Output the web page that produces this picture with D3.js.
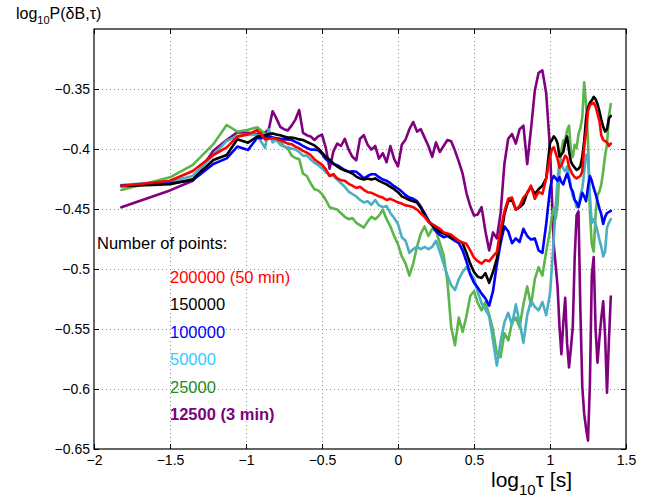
<!DOCTYPE html>
<html>
<head>
<meta charset="utf-8">
<script src="https://cdn.jsdelivr.net/npm/d3@7"></script>
<style>
  body { margin: 0; background: #fff; }
  svg { display: block; }
  text { font-family: "Liberation Sans", Arial, Helvetica, sans-serif; }
</style>
</head>
<body>
<svg id="chart" width="656" height="499"></svg>
<script>
// log10(tau) sampling shared by all curves
const logTau = [
  -1.82, -1.5, -1.35, -1.215, -1.127, -1.057, -0.987, -0.926,
  -0.9, -0.875, -0.85, -0.825, -0.8, -0.775, -0.75, -0.725, -0.7, -0.675,
  -0.65, -0.625, -0.6, -0.575, -0.55, -0.525, -0.5, -0.475, -0.45, -0.425,
  -0.4, -0.375, -0.35, -0.325, -0.3, -0.275, -0.25, -0.225, -0.2, -0.175,
  -0.15, -0.125, -0.1, -0.075, -0.05, -0.025, 0, 0.025, 0.05, 0.075,
  0.1, 0.125, 0.15, 0.175, 0.2, 0.225, 0.25, 0.275, 0.3, 0.325,
  0.35, 0.375, 0.4, 0.425, 0.45, 0.475, 0.5, 0.525, 0.55, 0.575,
  0.6, 0.625, 0.65, 0.675, 0.7, 0.725, 0.75, 0.775, 0.8, 0.825,
  0.85, 0.875, 0.9, 0.925, 0.95, 0.975,
  1.0, 1.0125, 1.025, 1.0375, 1.05, 1.0625, 1.075, 1.0875, 1.1, 1.1125,
  1.125, 1.1375, 1.15, 1.1625, 1.175, 1.1875, 1.2, 1.2125, 1.225, 1.2375,
  1.25, 1.2625, 1.275, 1.2875, 1.3, 1.3125, 1.325, 1.3375, 1.35, 1.3625,
  1.375, 1.3875, 1.4
];

const logP200000 = [
  -0.4308, -0.4264, -0.4183, -0.405, -0.3986, -0.3897, -0.3878, -0.3842,
  -0.388, -0.392, -0.3915, -0.391, -0.3915, -0.393, -0.394, -0.3955, -0.396, -0.398,
  -0.3995, -0.4015, -0.403, -0.405, -0.4085, -0.411, -0.413, -0.417, -0.4225, -0.421,
  -0.4245, -0.426, -0.4265, -0.429, -0.4305, -0.4325, -0.4315, -0.434, -0.436, -0.4365,
  -0.438, -0.4395, -0.4405, -0.4425, -0.4415, -0.443, -0.4445, -0.4455, -0.447, -0.4475,
  -0.4485, -0.4505, -0.4535, -0.4565, -0.4605, -0.4625, -0.4645, -0.4665, -0.4695, -0.4705,
  -0.4715, -0.474, -0.4765, -0.478, -0.479, -0.4845, -0.4905, -0.4935, -0.4955, -0.4925,
  -0.4935, -0.4895, -0.486, -0.467, -0.452, -0.4415, -0.4405, -0.4505, -0.4475, -0.4405,
  -0.437, -0.4305, -0.4415, -0.4355, -0.4375, -0.4245,
  -0.4064, -0.4005, -0.3985, -0.4035, -0.4085, -0.4155, -0.4135, -0.4095, -0.4055, -0.4075,
  -0.4145, -0.4185, -0.4215, -0.4235, -0.4245, -0.4235, -0.4225, -0.4185, -0.3985, -0.3855,
  -0.3685, -0.3635, -0.3625, -0.3615, -0.3645, -0.3705, -0.3765, -0.3885, -0.3925, -0.3935,
  -0.3945, -0.3975, -0.3955
];

const logP150000 = [
  -0.431, -0.4294, -0.4253, -0.4092, -0.405, -0.3919, -0.3947, -0.3897,
  -0.3895, -0.3885, -0.3875, -0.387, -0.388, -0.3885, -0.3895, -0.3905, -0.3905, -0.391,
  -0.392, -0.3925, -0.394, -0.3955, -0.397, -0.3995, -0.403, -0.4065, -0.409, -0.412,
  -0.4145, -0.4165, -0.418, -0.419, -0.4205, -0.423, -0.4245, -0.4255, -0.4245, -0.4255,
  -0.4245, -0.4265, -0.428, -0.4295, -0.4315, -0.4335, -0.436, -0.4395, -0.441, -0.4425,
  -0.4435, -0.4445, -0.449, -0.455, -0.4605, -0.4635, -0.466, -0.469, -0.4705, -0.4715,
  -0.4735, -0.4745, -0.4765, -0.4785, -0.4865, -0.4955, -0.5025, -0.5065, -0.5075, -0.5035,
  -0.5115, -0.5025, -0.4915, -0.4745, -0.4545, -0.4435, -0.4425, -0.4505, -0.4485, -0.4455,
  -0.4365, -0.4315, -0.4375, -0.4335, -0.4305, -0.4245,
  -0.395, -0.3925, -0.3895, -0.3915, -0.3955, -0.4065, -0.4045, -0.4025, -0.3945, -0.3895,
  -0.4015, -0.4105, -0.4135, -0.4155, -0.4175, -0.4165, -0.4145, -0.4065, -0.3935, -0.3745,
  -0.3655, -0.3615, -0.3595, -0.3565, -0.3585, -0.3625, -0.3685, -0.3755, -0.3815, -0.3855,
  -0.3835, -0.3745, -0.3725
];

const logP100000 = [
  -0.4305, -0.4285, -0.426, -0.4125, -0.4078, -0.398, -0.4008, -0.3906,
  -0.391, -0.39, -0.3895, -0.3905, -0.391, -0.3915, -0.392, -0.392, -0.3925, -0.394,
  -0.3955, -0.3975, -0.399, -0.4005, -0.4005, -0.401, -0.404, -0.4085, -0.4105, -0.4125,
  -0.4135, -0.4155, -0.4175, -0.419, -0.4185, -0.419, -0.4215, -0.4245, -0.4225, -0.421,
  -0.421, -0.4235, -0.4255, -0.4265, -0.4285, -0.431, -0.433, -0.4355, -0.4385, -0.4405,
  -0.4415, -0.4435, -0.448, -0.4535, -0.4595, -0.4635, -0.4685, -0.4715, -0.4735, -0.4725,
  -0.4745, -0.4765, -0.4785, -0.4845, -0.4935, -0.5045, -0.5115, -0.5155, -0.5205, -0.5245,
  -0.5305, -0.5185, -0.4965, -0.4785, -0.4645, -0.4685, -0.4785, -0.4745, -0.4775, -0.4665,
  -0.4725, -0.4755, -0.4745, -0.4845, -0.4865, -0.4625,
  -0.4335, -0.4255, -0.4225, -0.4245, -0.4265, -0.4235, -0.4275, -0.4295, -0.4245, -0.4205,
  -0.4255, -0.4325, -0.4355, -0.4425, -0.4445, -0.4485, -0.4425, -0.4365, -0.4395, -0.4435,
  -0.4315, -0.4225, -0.4265, -0.4325, -0.4375, -0.4435, -0.4495, -0.4545, -0.4625, -0.4565,
  -0.4535, -0.4525, -0.4515
];

const logP50000 = [
  -0.430, -0.427, -0.4225, -0.405, -0.3933, -0.3892, -0.388, -0.3883,
  -0.394, -0.399, -0.3835, -0.3945, -0.3925, -0.3965, -0.398, -0.3985, -0.3995, -0.4005,
  -0.4025, -0.4055, -0.4055, -0.4085, -0.4115, -0.4135, -0.416, -0.4195, -0.4215, -0.4225,
  -0.4255, -0.4285, -0.4315, -0.4355, -0.4375, -0.4395, -0.4425, -0.4445, -0.4435, -0.4465,
  -0.4425, -0.447, -0.4485, -0.4475, -0.4535, -0.4575, -0.4625, -0.4735, -0.4765, -0.4865,
  -0.4835, -0.4815, -0.4835, -0.4815, -0.4835, -0.4815, -0.4765, -0.4855, -0.4955, -0.5055,
  -0.5135, -0.5175, -0.5085, -0.5025, -0.4985, -0.5035, -0.5075, -0.5195, -0.5285, -0.5335,
  -0.5395, -0.5595, -0.5805, -0.5605, -0.5445, -0.5365, -0.5465, -0.5295, -0.5445, -0.5615,
  -0.5385, -0.5265, -0.5315, -0.5345, -0.5275, -0.5385,
  -0.5205, -0.4985, -0.4745, -0.4475, -0.4255, -0.4105, -0.4125, -0.4165, -0.4185, -0.4145,
  -0.4225, -0.4315, -0.4395, -0.4425, -0.4485, -0.4465, -0.4385, -0.4325, -0.4195, -0.4055,
  -0.4035, -0.4395, -0.4615, -0.4585, -0.4625, -0.4685, -0.4755, -0.4815, -0.4895, -0.4855,
  -0.4655, -0.4615, -0.4585
];

const logP25000 = [
  -0.4342, -0.4236, -0.4133, -0.396, -0.38, -0.3856, -0.384, -0.3819,
  -0.3845, -0.3875, -0.389, -0.3905, -0.3915, -0.393, -0.398, -0.3995, -0.4055, -0.4075,
  -0.4085, -0.4205, -0.4225, -0.4285, -0.4335, -0.4345, -0.4375, -0.4425, -0.4485, -0.4495,
  -0.4505, -0.4535, -0.4565, -0.4585, -0.4575, -0.4615, -0.4635, -0.4655, -0.4605, -0.4565,
  -0.4585, -0.4555, -0.4505, -0.4585, -0.4645, -0.4725, -0.4795, -0.4895, -0.4955, -0.5055,
  -0.4955, -0.4815, -0.4705, -0.4645, -0.4725, -0.4665, -0.4685, -0.4785, -0.4885, -0.5105,
  -0.5485, -0.5635, -0.5405, -0.5525, -0.5395, -0.5225, -0.5185, -0.5285, -0.5345, -0.5275,
  -0.5385, -0.5505, -0.5705, -0.5735, -0.5535, -0.5595, -0.5445, -0.5405, -0.5485, -0.5295,
  -0.5145, -0.5305, -0.5085, -0.4985, -0.5055, -0.4855,
  -0.468, -0.456, -0.449, -0.458, -0.446, -0.418, -0.401, -0.393, -0.3925, -0.3845,
  -0.3805, -0.4005, -0.4065, -0.3965, -0.3995, -0.3875, -0.3825, -0.3735, -0.3445, -0.3635,
  -0.3925, -0.4525, -0.4795, -0.4855, -0.4545, -0.4385, -0.4355, -0.4295, -0.4185, -0.4055,
  -0.3965, -0.3725, -0.3625
];

const logP12500 = [
  -0.4486, -0.4345, -0.4264, -0.4014, -0.3925, -0.3861, -0.3865, -0.3875,
  -0.386, -0.3865, -0.3835, -0.3685, -0.3745, -0.3815, -0.3835, -0.3845, -0.3805, -0.3755,
  -0.3675, -0.3865, -0.3885, -0.3895, -0.3925, -0.3895, -0.388, -0.399, -0.4165, -0.402,
  -0.3955, -0.3975, -0.3915, -0.4005, -0.4065, -0.4095, -0.3915, -0.3885, -0.3965, -0.4005,
  -0.3975, -0.408, -0.4035, -0.411, -0.3975, -0.4085, -0.4145, -0.3965, -0.392, -0.3835,
  -0.3775, -0.3855, -0.3835, -0.3905, -0.3975, -0.4065, -0.3945, -0.4025, -0.3975, -0.3925,
  -0.3935, -0.4015, -0.4105, -0.4205, -0.4365, -0.4475, -0.4555, -0.4545, -0.4485, -0.4685,
  -0.4845, -0.4695, -0.4745, -0.4535, -0.4125, -0.3915, -0.3875, -0.3955, -0.3835, -0.3805,
  -0.4125, -0.3835, -0.3515, -0.3365, -0.3345, -0.3535,
  -0.40, -0.44, -0.48, -0.497, -0.515, -0.548, -0.571, -0.545, -0.524, -0.562,
  -0.582, -0.566, -0.548, -0.49, -0.455, -0.452, -0.535, -0.598, -0.621, -0.633,
  -0.643, -0.596, -0.505, -0.49, -0.55, -0.578, -0.558, -0.541, -0.527, -0.556,
  -0.603, -0.56, -0.523
];

const xTicks = [-2, -1.5, -1, -0.5, 0, 0.5, 1, 1.5];
const yTicks = [-0.65, -0.6, -0.55, -0.5, -0.45, -0.4, -0.35];

const legendTitle = "Number of points:";
const legendLabels = ["200000 (50 min)", "150000", "100000", "50000", "25000", "12500 (3 min)"];
const legendColors = ["#ff0000", "#000000", "#0000ff", "#33ccff", "#228b22", "#800080"];

// drawing order: purple at the back, red on top
const series = [
  { values: logP12500, color: "#800080" },
  { values: logP25000, color: "#5cb54a" },
  { values: logP50000, color: "#4aafc2" },
  { values: logP100000, color: "#0000ff" },
  { values: logP150000, color: "#000000" },
  { values: logP200000, color: "#ff0000" }
];

const svg = d3.select("#chart");
const plotLeft = 94, plotRight = 626, plotTop = 29, plotBottom = 449;

const x = d3.scaleLinear().domain([-2, 1.5]).range([plotLeft, plotRight]);
const y = d3.scaleLinear().domain([-0.65, -0.30]).range([plotBottom, plotTop]);
const fmt = d3.format("");

// dotted grid
const grid = svg.append("g")
  .attr("stroke", "#8a8a8a")
  .attr("stroke-width", 1)
  .attr("stroke-dasharray", "1,3");
grid.selectAll("line.gx").data(xTicks.slice(1, -1)).join("line")
  .attr("class", "gx")
  .attr("x1", d => Math.round(x(d)) + 0.5).attr("x2", d => Math.round(x(d)) + 0.5)
  .attr("y1", plotTop).attr("y2", plotBottom);
grid.selectAll("line.gy").data(yTicks.slice(1)).join("line")
  .attr("class", "gy")
  .attr("y1", d => Math.round(y(d)) + 0.5).attr("y2", d => Math.round(y(d)) + 0.5)
  .attr("x1", plotLeft).attr("x2", plotRight);

// curves
const line = d3.line()
  .x((d, i) => x(logTau[i]))
  .y(d => y(d));

svg.append("g").selectAll("path").data(series).join("path")
  .attr("d", d => line(d.values))
  .attr("fill", "none")
  .attr("stroke", d => d.color)
  .attr("stroke-width", 2.6)
  .attr("stroke-linejoin", "round")
  .attr("stroke-linecap", "round");

// axes, ticks inside on all four sides
function styleAxis(g) {
  g.select(".domain").remove();
  g.selectAll(".tick line").attr("stroke", "#000");
  g.selectAll(".tick text").attr("fill", "#000").attr("font-size", 14)
    .attr("font-family", "'Liberation Sans', Arial, sans-serif");
}

svg.append("g").attr("transform", `translate(0,${plotBottom})`)
  .call(d3.axisBottom(x).tickValues(xTicks).tickSizeInner(-5).tickSizeOuter(0).tickPadding(6).tickFormat(fmt))
  .call(styleAxis);
svg.append("g").attr("transform", `translate(0,${plotTop})`)
  .call(d3.axisTop(x).tickValues(xTicks).tickSizeInner(-5).tickSizeOuter(0).tickFormat(""))
  .call(styleAxis);
svg.append("g").attr("transform", `translate(${plotLeft},0)`)
  .call(d3.axisLeft(y).tickValues(yTicks).tickSizeInner(-5).tickSizeOuter(0).tickPadding(4).tickFormat(fmt))
  .call(styleAxis);
svg.append("g").attr("transform", `translate(${plotRight},0)`)
  .call(d3.axisRight(y).tickValues(yTicks).tickSizeInner(-5).tickSizeOuter(0).tickFormat(""))
  .call(styleAxis);

svg.append("rect")
  .attr("x", plotLeft).attr("y", plotTop)
  .attr("width", plotRight - plotLeft).attr("height", plotBottom - plotTop)
  .attr("fill", "none").attr("stroke", "#000").attr("stroke-width", 1.2);

// legend
svg.append("text")
  .attr("x", 97).attr("y", 249)
  .attr("font-size", 16.5).attr("fill", "#000")
  .text(legendTitle);

svg.append("g").selectAll("text").data(legendLabels).join("text")
  .attr("x", 170)
  .attr("y", (d, i) => 283 + i * 27.4)
  .attr("font-size", 16.5)
  .attr("font-weight", (d, i) => i === legendLabels.length - 1 ? "bold" : "normal")
  .attr("fill", (d, i) => legendColors[i])
  .text(d => d);

// axis titles
const yTitle = svg.append("text").attr("x", 16).attr("y", 19).attr("font-size", 16).attr("fill", "#000");
yTitle.append("tspan").text("log");
yTitle.append("tspan").attr("font-size", 11).attr("dy", 5).text("10");
yTitle.append("tspan").attr("dy", -5).text("P(δB,τ)");

const xTitle = svg.append("text").attr("x", 491).attr("y", 487).attr("font-size", 21).attr("fill", "#000");
xTitle.append("tspan").text("log");
xTitle.append("tspan").attr("font-size", 15).attr("dy", 8).text("10");
xTitle.append("tspan").attr("dy", -8).text("τ [s]");
</script>
</body>
</html>
